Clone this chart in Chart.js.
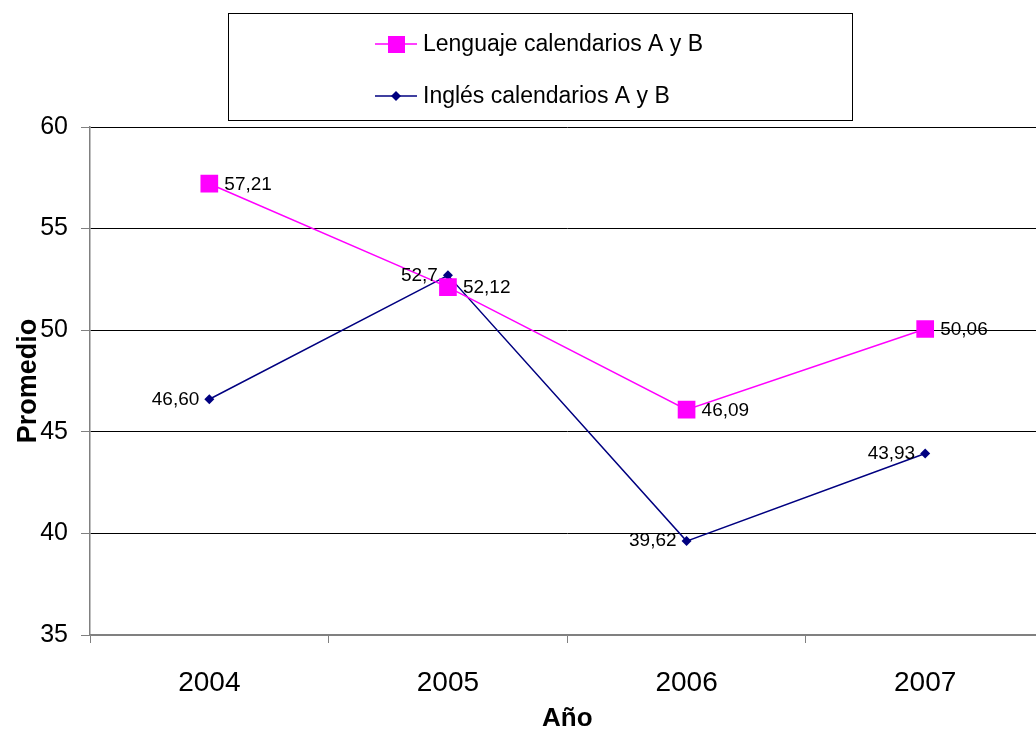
<!DOCTYPE html>
<html>
<head>
    <title>Promedio por año</title>
    <meta charset="UTF-8">
    <style>
        body { margin: 0; overflow: hidden; background: #fff; }
        #wrap { width: 1057px; height: 738px; }
    </style>
</head>
<body>

<div id="wrap">
    <canvas id="grafico" width="1057" height="738"></canvas>
</div>

<script src="https://cdn.jsdelivr.net/npm/chart.js"></script>
<script>

    // datos del grafico
    var years = ["2004", "2005", "2006", "2007"];
    var lenguaje_values = [57.21, 52.12, 46.09, 50.06];
    var ingles_values = [46.60, 52.70, 39.62, 43.93];
    var lenguaje_labels = ["57,21", "52,12", "46,09", "50,06"];
    var ingles_labels = ["46,60", "52,7", "39,62", "43,93"];
    var y_ticks = [35, 40, 45, 50, 55, 60];

    var series_names = ["Lenguaje calendarios A y B", "Inglés calendarios A y B"];
    var color_lenguaje = "#FF00FF";
    var color_ingles = "#000080";
    var font_family = "'Liberation Sans', Arial, sans-serif";

    // etiquetas de valores junto a cada punto
    var value_labels = {
        id: "value_labels",
        afterDatasetsDraw(chart) {
            const ctx = chart.ctx;
            ctx.save();
            ctx.font = "19px " + font_family;
            ctx.fillStyle = "#000";
            ctx.textBaseline = "middle";
            chart.data.datasets.forEach(function (ds, i) {
                const meta = chart.getDatasetMeta(i);
                meta.data.forEach(function (pt, j) {
                    if (i == 0) {
                        ctx.textAlign = "left";
                        ctx.fillText(ds.valueLabels[j], pt.x + 15, pt.y + 1);
                    } else {
                        ctx.textAlign = "right";
                        ctx.fillText(ds.valueLabels[j], pt.x - 10, pt.y);
                    }
                });
            });
            ctx.restore();
        }
    };

    // leyenda con recuadro
    var box_legend = {
        id: "box_legend",
        afterDraw(chart) {
            const ctx = chart.ctx;
            ctx.save();
            ctx.strokeStyle = "#000";
            ctx.lineWidth = 1;
            ctx.strokeRect(228.5, 13.5, 624, 107);

            ctx.font = "23px " + font_family;
            ctx.textBaseline = "middle";
            ctx.textAlign = "left";

            // Lenguaje
            ctx.strokeStyle = color_lenguaje;
            ctx.lineWidth = 1.5;
            ctx.beginPath();
            ctx.moveTo(375, 44);
            ctx.lineTo(417, 44);
            ctx.stroke();
            ctx.fillStyle = color_lenguaje;
            ctx.fillRect(388, 36, 17, 17);
            ctx.fillStyle = "#000";
            ctx.fillText(series_names[0], 423, 45);

            // Ingles
            ctx.strokeStyle = color_ingles;
            ctx.beginPath();
            ctx.moveTo(375, 96);
            ctx.lineTo(417, 96);
            ctx.stroke();
            ctx.fillStyle = color_ingles;
            ctx.beginPath();
            ctx.moveTo(396, 91);
            ctx.lineTo(401, 96);
            ctx.lineTo(396, 101);
            ctx.lineTo(391, 96);
            ctx.closePath();
            ctx.fill();
            ctx.fillStyle = "#000";
            ctx.fillText(series_names[1], 423, 97);
            ctx.restore();
        }
    };

    const data = {
        labels: years,
        datasets: [{
            label: series_names[0],
            data: lenguaje_values,
            valueLabels: lenguaje_labels,
            borderColor: color_lenguaje,
            backgroundColor: color_lenguaje,
            borderWidth: 1.5,
            pointStyle: "rect",
            pointRadius: 12.5,
            pointBorderWidth: 0,
            fill: false,
            tension: 0
        }, {
            label: series_names[1],
            data: ingles_values,
            valueLabels: ingles_labels,
            borderColor: color_ingles,
            backgroundColor: color_ingles,
            borderWidth: 1.5,
            pointStyle: "rectRot",
            pointRadius: 5,
            pointBorderWidth: 0,
            fill: false,
            tension: 0
        }]
    };

    const config = {
        type: "line",
        data: data,
        plugins: [value_labels, box_legend],
        options: {
            responsive: false,
            animation: false,
            events: [],
            layout: {
                padding: { top: 127, left: 0, right: 0, bottom: 0 }
            },
            plugins: {
                legend: { display: false },
                tooltip: { enabled: false }
            },
            scales: {
                x: {
                    offset: true,
                    afterFit: function (scale) {
                        scale.height = 103;
                        scale.paddingRight = 0;
                    },
                    grid: {
                        offset: true,
                        drawOnChartArea: false,
                        drawTicks: true,
                        tickLength: 8,
                        tickColor: "#808080"
                    },
                    border: { color: "#808080", width: 1.5 },
                    ticks: {
                        color: "#000",
                        padding: 23,
                        maxRotation: 0,
                        font: { family: font_family, size: 28 }
                    },
                    title: {
                        display: true,
                        text: "Año",
                        color: "#000",
                        padding: { top: 0, bottom: 4 },
                        font: { family: font_family, size: 26, weight: "bold" }
                    }
                },
                y: {
                    min: 35,
                    max: 60,
                    afterFit: function (scale) { scale.width = 90; },
                    afterBuildTicks: function (scale) {
                        scale.ticks = y_ticks.map(function (v) { return { value: v }; });
                    },
                    grid: {
                        color: function (c) { return c.tick && c.tick.value == 35 ? "#808080" : "#000"; },
                        lineWidth: 1,
                        drawTicks: true,
                        tickLength: 9,
                        tickColor: "#808080"
                    },
                    border: { color: "#808080", width: 1.5 },
                    ticks: {
                        color: "#000",
                        padding: 13,
                        font: { family: font_family, size: 25 }
                    },
                    title: {
                        display: true,
                        text: "Promedio",
                        color: "#000",
                        padding: { top: 12, bottom: 0 },
                        font: { family: font_family, size: 27, weight: "bold" }
                    }
                }
            }
        }
    };

    window.myChart = new Chart(document.getElementById("grafico"), config);

</script>
</body>
</html>
